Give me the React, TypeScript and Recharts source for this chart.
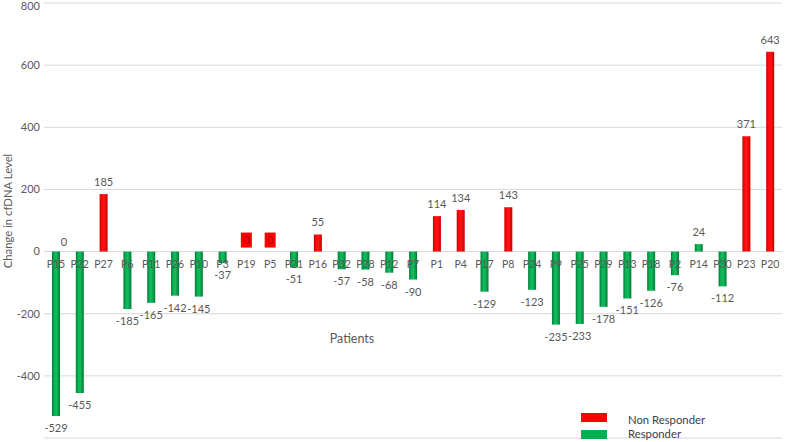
import React from 'react';
import { BarChart, Bar, XAxis, YAxis, CartesianGrid, Cell, LabelList, ReferenceDot } from 'recharts';

// Change in cfDNA level per patient, sorted as in the study figure
const patients = [
  'P15', 'P22', 'P27', 'P6', 'P11', 'P26', 'P10', 'P3', 'P19', 'P5', 'P21', 'P16', 'P32', 'P28', 'P12', 'P7',
  'P1', 'P4', 'P17', 'P8', 'P24', 'P9', 'P25', 'P29', 'P13', 'P18', 'P2', 'P14', 'P30', 'P23', 'P20',
];
const changes = [
  -529, -455, 185, -185, -165, -142, -145, -37, 0, 0, -51, 55, -57, -58, -68, -90,
  114, 134, -129, 143, -123, -235, -233, -178, -151, -126, -76, 24, -112, 371, 643,
];
// true = responder, false = non responder
const responder = [
  true, true, false, true, true, true, true, true, false, false, true, false, true, true, true, true,
  false, false, true, false, true, true, true, true, true, true, true, true, true, false, false,
];
const yTicks = [-600, -400, -200, 0, 200, 400, 600, 800];

const data = patients.map((p, i) => ({ patient: p, change: changes[i], responder: responder[i] }));

const RED = '#ff0000';
const GREEN = '#00b050';
const TEXT = '#595959';
const FONT = 'Lato, "Open Sans", sans-serif';

// value above positive bars, below negative bars
const ValueLabel = (props: any) => {
  const vb = props.viewBox ?? props;
  const x = Number(vb.x);
  const y = Number(vb.y);
  const w = Number(vb.width);
  const h = Number(vb.height);
  const value = Number(props.value);
  if (value === 0) return null;
  const cx = x + w / 2;
  const top = Math.min(y, y + h);
  const bottom = Math.max(y, y + h);
  const ty = value > 0 ? top - 8 : bottom + 16;
  return (
    <text x={cx} y={ty} textAnchor="middle" fontSize={11} fill={TEXT} fontFamily={FONT}>{value}</text>
  );
};

// patient name sitting just under the zero line
const NameLabel = (name: string) => (props: any) => {
  const vb = props.viewBox ?? props;
  const cx = Number(vb.x) + Number(vb.width || 0) / 2;
  const cy = Number(vb.y) + Number(vb.height || 0) / 2;
  return (
    <text x={cx} y={cy + 16} textAnchor="middle" fontSize={10.5} fill={TEXT} fontFamily={FONT}>{name}</text>
  );
};

// red filled "0" tag for zero-change non responders
const ZeroTag = (props: any) => {
  const vb = props.viewBox ?? props;
  const cx = Number(vb.x) + Number(vb.width || 0) / 2;
  const cy = Number(vb.y) + Number(vb.height || 0) / 2;
  return (
    <g>
      <rect x={cx - 5.5} y={cy - 19} width={11} height={15} fill={RED} />
      <text x={cx} y={cy - 7.5} textAnchor="middle" fontSize={11} fill="#b00000" fontFamily={FONT}>0</text>
    </g>
  );
};

export default function App() {
  return (
    <div style={{ position: 'absolute', left: 0, top: 0, width: 787, height: 442, background: '#fff', fontFamily: FONT }}>
      <BarChart width={787} height={442} data={data} margin={{ top: 3, right: 5, bottom: 4, left: 0 }}>
        <defs>
          <linearGradient id="gGreen" x1="0" y1="0" x2="1" y2="0">
            <stop offset="0%" stopColor="#007a36" />
            <stop offset="30%" stopColor="#0ab455" />
            <stop offset="55%" stopColor="#14bb5c" />
            <stop offset="100%" stopColor="#007a36" />
          </linearGradient>
          <linearGradient id="gRed" x1="0" y1="0" x2="1" y2="0">
            <stop offset="0%" stopColor="#c80000" />
            <stop offset="30%" stopColor="#ff0a0a" />
            <stop offset="55%" stopColor="#ff1414" />
            <stop offset="100%" stopColor="#c80000" />
          </linearGradient>
        </defs>
        <CartesianGrid vertical={false} stroke="#d9d9d9" />
        <XAxis dataKey="patient" hide />
        <YAxis
          domain={[-600, 800]}
          ticks={yTicks}
          width={44}
          tickLine={false}
          axisLine={false}
          tickSize={0}
          tickMargin={4}
          tick={{ fontSize: 11, fill: TEXT, fontFamily: FONT }}
        />
        <Bar dataKey="change" barSize={8} isAnimationActive={false}>
          {data.map((d, i) => (
            <Cell key={`c-${i}`} fill={d.responder ? 'url(#gGreen)' : 'url(#gRed)'} />
          ))}
          <LabelList dataKey="change" content={ValueLabel} />
        </Bar>
        {data.map((d) => (
          <ReferenceDot key={`n-${d.patient}`} x={d.patient} y={0} r={0} fill="none" stroke="none" label={NameLabel(d.patient)} />
        ))}
        {data
          .filter((d) => d.change === 0 && !d.responder)
          .map((d) => (
            <ReferenceDot key={`z-${d.patient}`} x={d.patient} y={d.change} r={0} fill="none" stroke="none" label={ZeroTag} />
          ))}
        <ReferenceDot
          x="P15"
          y={0}
          r={0}
          fill="none"
          stroke="none"
          label={{ value: '0', position: 'top', dx: 8, offset: 6, fontSize: 11, fill: TEXT, fontFamily: FONT }}
        />
      </BarChart>

      <div
        style={{
          position: 'absolute', left: 7, top: 211, transform: 'translate(-50%, -50%) rotate(-90deg)',
          fontSize: 11.3, color: TEXT, whiteSpace: 'nowrap',
        }}
      >
        Change in cfDNA Level
      </div>
      <div style={{ position: 'absolute', left: 352, top: 338, transform: 'translate(-50%, -50%)', fontSize: 12.5, color: TEXT }}>
        Patients
      </div>

      <div style={{ position: 'absolute', left: 581, top: 413, width: 26, height: 9, background: RED }} />
      <div style={{ position: 'absolute', left: 628, top: 419, transform: 'translateY(-50%)', fontSize: 11.3, lineHeight: '13px', color: '#404040' }}>
        Non Responder
      </div>
      <div style={{ position: 'absolute', left: 581, top: 430, width: 26, height: 9, background: GREEN }} />
      <div style={{ position: 'absolute', left: 628, top: 433, transform: 'translateY(-50%)', fontSize: 11.3, lineHeight: '13px', color: '#404040' }}>
        Responder
      </div>
    </div>
  );
}
